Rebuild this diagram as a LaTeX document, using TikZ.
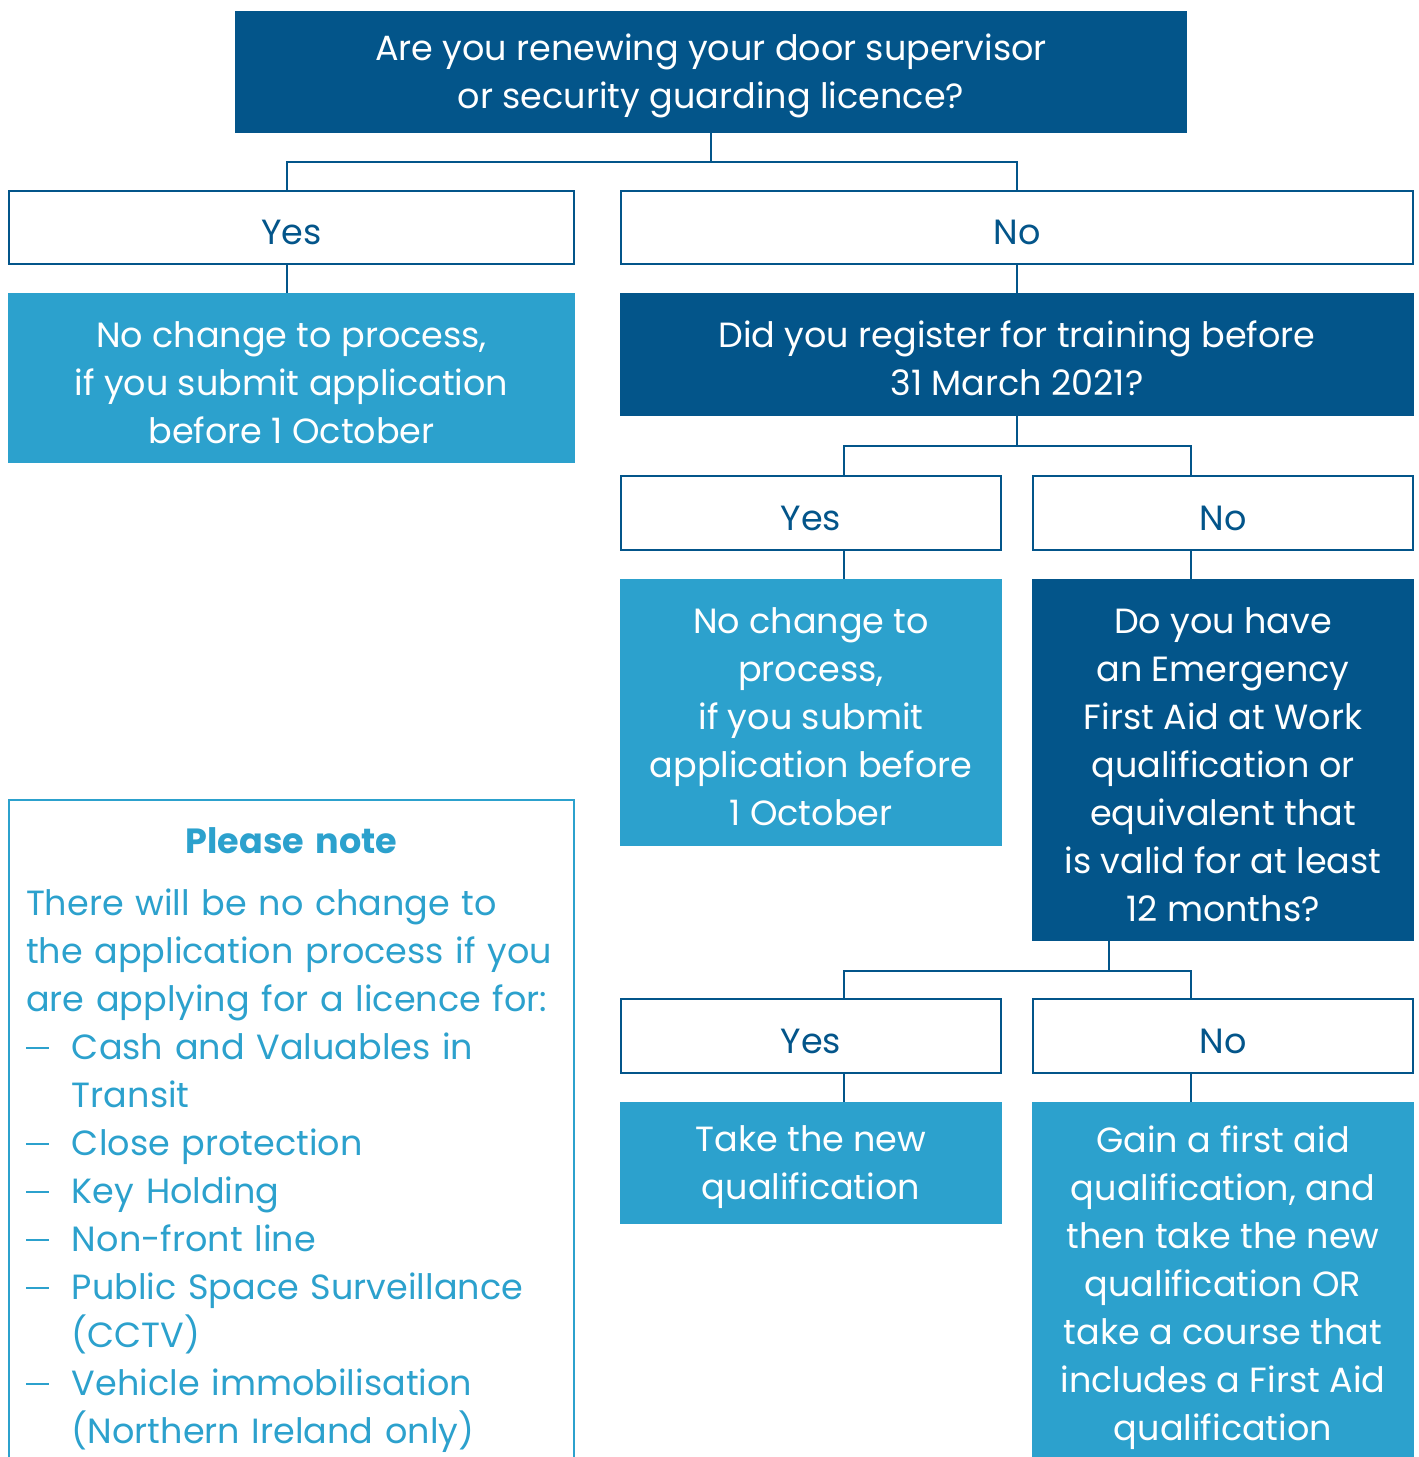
\documentclass[tikz,border=0pt]{standalone}
\usepackage{fontspec}
\setmainfont{Poppins}
\definecolor{rsdark}{RGB}{3,85,138}
\definecolor{rslight}{RGB}{44,161,205}
\newcommand{\dashitem}{\makebox[46pt][l]{\rule[11pt]{23pt}{1.6pt}}}
\newcommand{\itemgap}{\hspace*{46pt}}
\newcommand{\tp}{\rule{0pt}{35pt}}
\tikzset{
	qbox/.style={fill=rsdark,text=white,align=center,inner sep=0pt,outer sep=0pt,anchor=north west},
	ansbox/.style={draw=rsdark,line width=2.6pt,fill=white,text=rsdark,inner sep=0pt,outer sep=0pt,anchor=north west},
	infobox/.style={fill=rslight,text=white,align=center,inner sep=0pt,outer sep=0pt,anchor=north west},
	notebox/.style={draw=rslight,line width=2.4pt,text=rslight,align=left,inner xsep=17pt,inner ysep=28pt,outer sep=0pt,anchor=north west},
	link/.style={draw=rsdark,line width=2.6pt}
}
\begin{document}
\begin{tikzpicture}[x=1pt,y=-1pt,font=\fontsize{35}{48}\selectfont]
		\useasboundingbox (0,0) rectangle (1419,1457);
		\clip (0,0) rectangle (1419,1457);
		% columns of the connectors
		\coordinate (cy1) at (287,0);
		\coordinate (cq3) at (1109,0);
		\coordinate (cya) at (844,0);
		\coordinate (cnb) at (1191,0);
		% first question
		\node[qbox,minimum width=952pt,minimum height=122pt] (q1) at (235,11) {\tp Are you renewing your door supervisor\\or security guarding licence?};
		\node[ansbox,minimum width=565pt,minimum height=73pt] (yes1) at (9,191) {\tp Yes};
		\node[ansbox,minimum width=792pt,minimum height=73pt] (no1) at (621,191) {\tp No};
		\node[infobox,minimum width=567pt,minimum height=170pt] (ans1) at (8,293) {\tp No change to process,\\if you submit application\\before 1 October};
		% second question
		\node[qbox,minimum width=794pt,minimum height=123pt] (q2) at (620,293) {\tp Did you register for training before\\31 March 2021?};
		\node[ansbox,minimum width=380pt,minimum height=74pt] (yes2) at (621,476) {\tp Yes};
		\node[ansbox,minimum width=380pt,minimum height=74pt] (no2) at (1033,476) {\tp No};
		\node[infobox,minimum width=382pt,minimum height=267pt] (ans2) at (620,579) {\tp No change to\\process,\\if you submit\\application before\\1 October};
		% third question
		\node[qbox,minimum width=382pt,minimum height=362pt] (q3) at (1032,579) {\tp Do you have\\an Emergency\\First Aid at Work\\qualification or\\equivalent that\\is valid for at least\\12 months?};
		\node[ansbox,minimum width=380pt,minimum height=74pt] (yes3) at (621,999) {\tp Yes};
		\node[ansbox,minimum width=380pt,minimum height=74pt] (no3) at (1033,999) {\tp No};
		\node[infobox,minimum width=382pt,minimum height=122pt] (ans3) at (620,1102) {\tp Take the new\\qualification};
		\node[infobox,minimum width=382pt,minimum height=364pt] (ans4) at (1032,1102) {\tp Gain a first aid\\qualification, and\\then take the new\\qualification OR\\take a course that\\includes a First Aid\\qualification};
		% note
		\node[notebox,text width=531pt] (note) at (9,800) {%
			\makebox[\linewidth][c]{\bfseries Please note}\\[14pt]
			There will be no change to\\
			the application process if you\\
			are applying for a licence for:\\
			\dashitem Cash and Valuables in\\
			\itemgap Transit\\
			\dashitem Close protection\\
			\dashitem Key Holding\\
			\dashitem Non-front line\\
			\dashitem Public Space Surveillance\\
			\itemgap (CCTV)\\
			\dashitem Vehicle immobilisation\\
			\itemgap (Northern Ireland only)};
		% connectors
		\draw[link] (q1.south) -- ++(0,29) coordinate (b1) -| (yes1.north -| cy1);
		\draw[link] (b1) -| (no1.north);
		\draw[link] (yes1.south -| cy1) -- (ans1.north -| cy1);
		\draw[link] (no1.south) -- (q2.north);
		\draw[link] (q2.south) -- ++(0,30) coordinate (b2) -| (yes2.north -| cya);
		\draw[link] (b2) -| (no2.north -| cnb);
		\draw[link] (yes2.south -| cya) -- (ans2.north -| cya);
		\draw[link] (no2.south -| cnb) -- (q3.north -| cnb);
		\draw[link] (q3.south -| cq3) -- ++(0,30) coordinate (b3) -| (yes3.north -| cya);
		\draw[link] (b3) -| (no3.north -| cnb);
		\draw[link] (yes3.south -| cya) -- (ans3.north -| cya);
		\draw[link] (no3.south -| cnb) -- (ans4.north -| cnb);
\end{tikzpicture}
\end{document}
